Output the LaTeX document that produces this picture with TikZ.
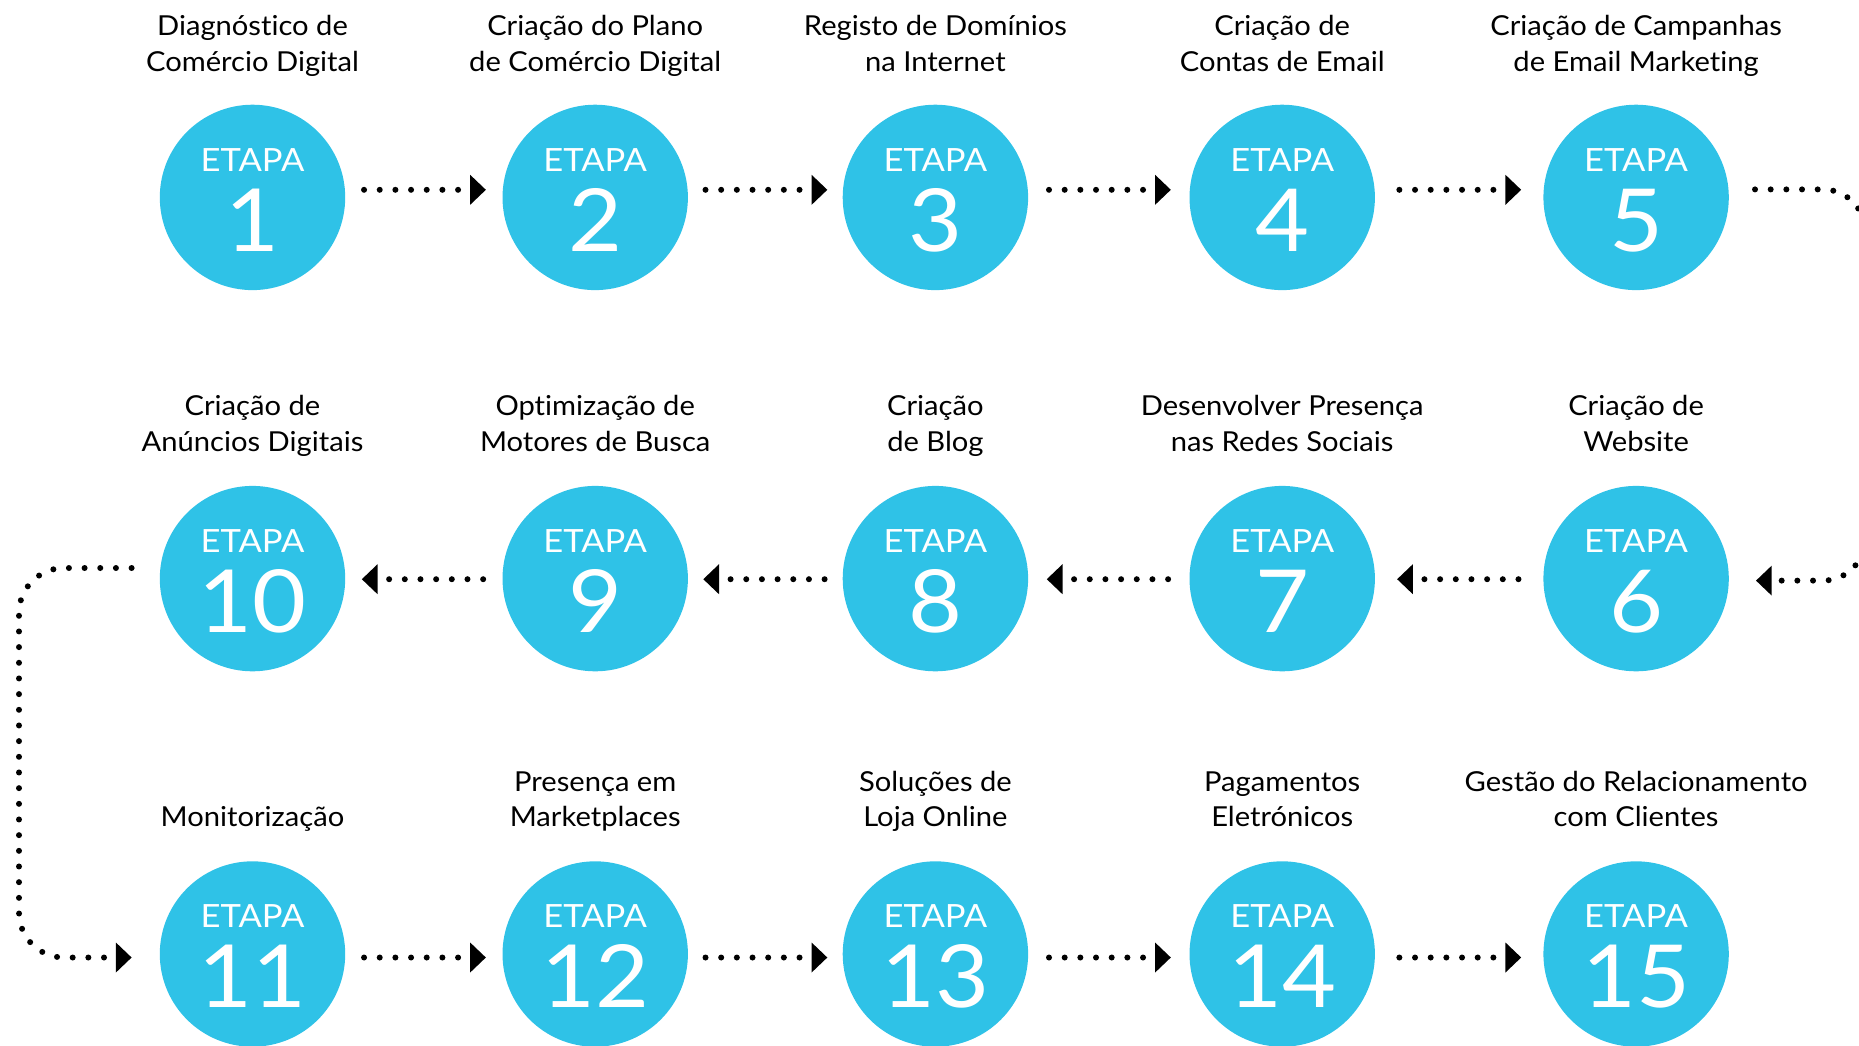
\documentclass[tikz,border=0pt]{standalone}
\usepackage{fontspec}
\setmainfont{Lato}
\newfontfamily\lblfont[FakeStretch=1.06,Ligatures=NoCommon]{Lato}
\newfontfamily\etapafont[FakeStretch=1.08]{Lato}
\newfontfamily\numfont[FakeStretch=1.07]{Lato}
\usetikzlibrary{arrows.meta,calc}
\definecolor{etapa}{RGB}{47,194,231}
\tikzset{
  stepcircle/.style={circle, fill=etapa, minimum size=185.4pt, inner sep=0pt},
  etapatxt/.style={text=white, font=\etapafont\fontsize{32}{32}\selectfont, inner sep=0pt, anchor=base},
  numtxt/.style={text=white, font=\numfont\fontsize{87}{87}\selectfont, inner sep=0pt, anchor=base},
  lbl/.style={font=\lblfont\fontsize{27.5}{35.5}\selectfont, align=center, inner sep=0pt, anchor=south, text depth=0pt},
  conn/.style={line width=6pt, line cap=round, dash pattern=on 0pt off 15.67pt,
    -{Triangle[length=15.7pt,width=30pt,line width=0pt]}},
}
\begin{document}
\begin{tikzpicture}[x=1pt,y=-1pt]
\useasboundingbox (0,0) rectangle (1859,1045);
\clip (0,0) rectangle (1859,1045);
\foreach \n/\x/\y in {1/252.5/197.4, 2/595.2/197.4, 3/935.4/197.4, 4/1282.2/197.4, 5/1636.1/197.4,
                      10/252.5/578.6, 9/595.2/578.6, 8/935.4/578.6, 7/1282.2/578.6, 6/1636.1/578.6,
                      11/252.5/954, 12/595.2/954, 13/935.4/954, 14/1282.2/954, 15/1636.1/954}{
  \node[stepcircle] (c\n) at (\x,\y) {};
  \node[etapatxt] (e\n) at (\x,\y-26.3) {ETAPA};
  \node[numtxt] (n\n) at (\x,\y+53.7) {\n};
}
% labels
\node[lbl] (l1) at (252.5,71.2) {Diagnóstico de\\Comércio Digital};
\node[lbl] (l2) at (595.2,71.2) {Criação do Plano\\de Comércio Digital};
\node[lbl] (l3) at (935.4,71.2) {Registo de Domínios\\na Internet};
\node[lbl] (l4) at (1282.2,71.2) {Criação de\\Contas de Email};
\node[lbl] (l5) at (1636.1,71.2) {Criação de Campanhas\\de Email Marketing};
\node[lbl] (l10) at (252.5,451.4) {Criação de\\Anúncios Digitais};
\node[lbl] (l9) at (595.2,451.4) {Optimização de\\Motores de Busca};
\node[lbl] (l8) at (935.4,451.4) {Criação\\de Blog};
\node[lbl] (l7) at (1282.2,451.4) {Desenvolver Presença\\nas Redes Sociais};
\node[lbl] (l6) at (1636.1,451.4) {Criação de\\Website};
\node[lbl] (l11) at (252.5,826.8) {Monitorização};
\node[lbl] (l12) at (595.2,826.8) {Presença em\\Marketplaces};
\node[lbl] (l13) at (935.4,826.8) {Soluções de\\Loja Online};
\node[lbl] (l14) at (1282.2,826.8) {Pagamentos\\Eletrónicos};
\node[lbl] (l15) at (1636.1,826.8) {Gestão do Relacionamento\\com Clientes};
% row 1 connectors
\foreach \a/\b in {1/2,2/3,3/4,4/5}{
  \draw[conn] ($(c\a.center)!0.5!(c\b.center)+(-59.8,-7.6)$) -- ($(c\a.center)!0.5!(c\b.center)+(62,-7.6)$);
}
% row 2 connectors (leftwards)
\foreach \a/\b in {6/7,7/8,8/9,9/10}{
  \draw[conn] ($(c\a.center)!0.5!(c\b.center)+(59.3,0.6)$) -- ($(c\a.center)!0.5!(c\b.center)+(-62,0.6)$);
}
% row 3 connectors
\foreach \a/\b in {11/12,12/13,13/14,14/15}{
  \draw[conn] ($(c\a.center)!0.5!(c\b.center)+(-59.8,3.5)$) -- ($(c\a.center)!0.5!(c\b.center)+(62,3.5)$);
}
% turn connectors
\coordinate (bendR) at (1865,385);
\coordinate (bendL) at (19,760);
\draw[conn, rounded corners=42pt] ([shift={(26,-8)}]c5.east) -| (bendR) |- ([shift={(27,2)}]c6.east);
\draw[conn, rounded corners=45pt] ([shift={(-28,-10.6)}]c10.west) -| (bendL) |- ([shift={(-28,3.5)}]c11.west);
\end{tikzpicture}
\end{document}
